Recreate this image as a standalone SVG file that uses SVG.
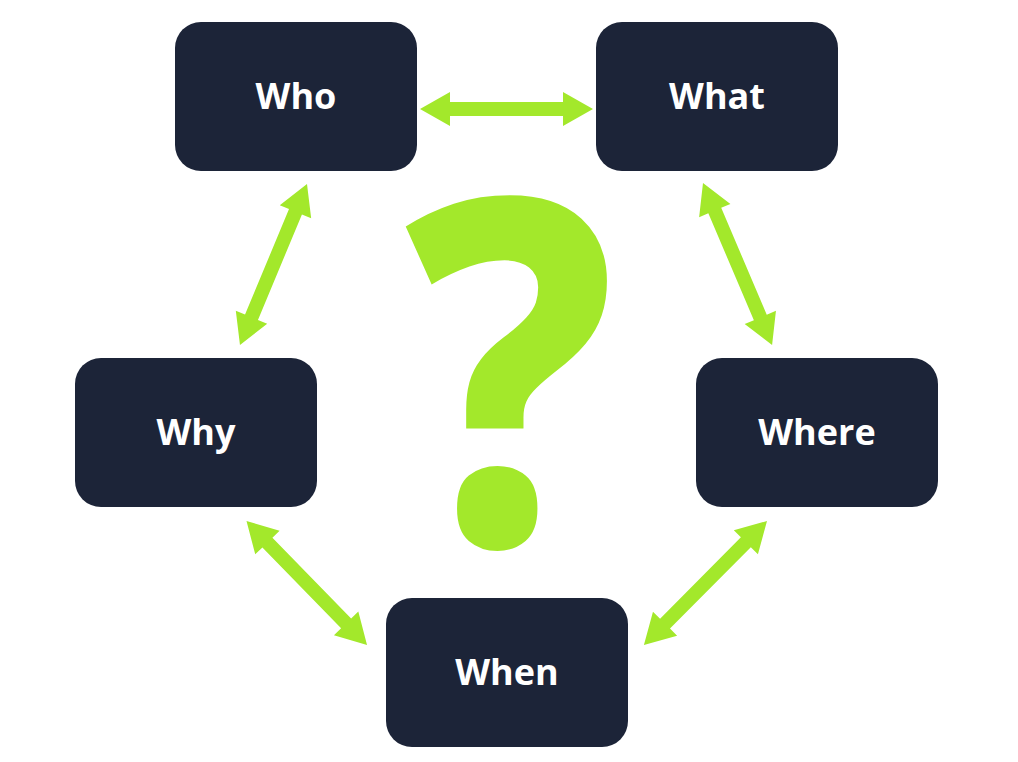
<svg xmlns="http://www.w3.org/2000/svg" width="1018" height="762" viewBox="0 0 1018 762">
<style>
.box{fill:#1c2438;}
.lbl{fill:#ffffff;font-family:"Open Sans","Liberation Sans",sans-serif;font-weight:700;font-size:36px;text-anchor:middle;}
.arr{fill:#a3e82b;}
.q{fill:#a3e82b;font-family:"Noto Sans","Open Sans",sans-serif;font-weight:800;font-size:483px;text-anchor:middle;}
</style>
<rect width="1018" height="762" fill="#ffffff"/>
<text class="q" transform="translate(510,545) scale(0.89,1)" x="0" y="0">?</text>
<g id="connectors">
<g transform="translate(420,109)"><polygon class="arr" points="0,0 30,-17 30,-7 143,-7 143,-17 173,0 143,17 143,7 30,7 30,17"/></g>
<g transform="translate(307,184) rotate(112.6)"><polygon class="arr" points="0,0 30,-17 30,-7 144.4,-7 144.4,-17 174.4,0 144.4,17 144.4,7 30,7 30,17"/></g>
<g transform="translate(703,183) rotate(66.9)"><polygon class="arr" points="0,0 30,-17 30,-7 146.1,-7 146.1,-17 176.1,0 146.1,17 146.1,7 30,7 30,17"/></g>
<g transform="translate(246.5,521) rotate(45.8)"><polygon class="arr" points="0,0 30,-17 30,-7 142.9,-7 142.9,-17 172.9,0 142.9,17 142.9,7 30,7 30,17"/></g>
<g transform="translate(767,521) rotate(134.8)"><polygon class="arr" points="0,0 30,-17 30,-7 144.7,-7 144.7,-17 174.7,0 144.7,17 144.7,7 30,7 30,17"/></g>
</g>
<g id="who"><rect class="box" x="175" y="22" width="242" height="149" rx="26"/><text class="lbl" x="296" y="109">Who</text></g>
<g id="what"><rect class="box" x="596" y="22" width="242" height="149" rx="26"/><text class="lbl" x="717" y="109">What</text></g>
<g id="why"><rect class="box" x="75" y="358" width="242" height="149" rx="26"/><text class="lbl" x="196" y="445">Why</text></g>
<g id="where"><rect class="box" x="696" y="358" width="242" height="149" rx="26"/><text class="lbl" x="817" y="445">Where</text></g>
<g id="when"><rect class="box" x="386" y="598" width="242" height="149" rx="26"/><text class="lbl" x="507" y="685">When</text></g>
</svg>
